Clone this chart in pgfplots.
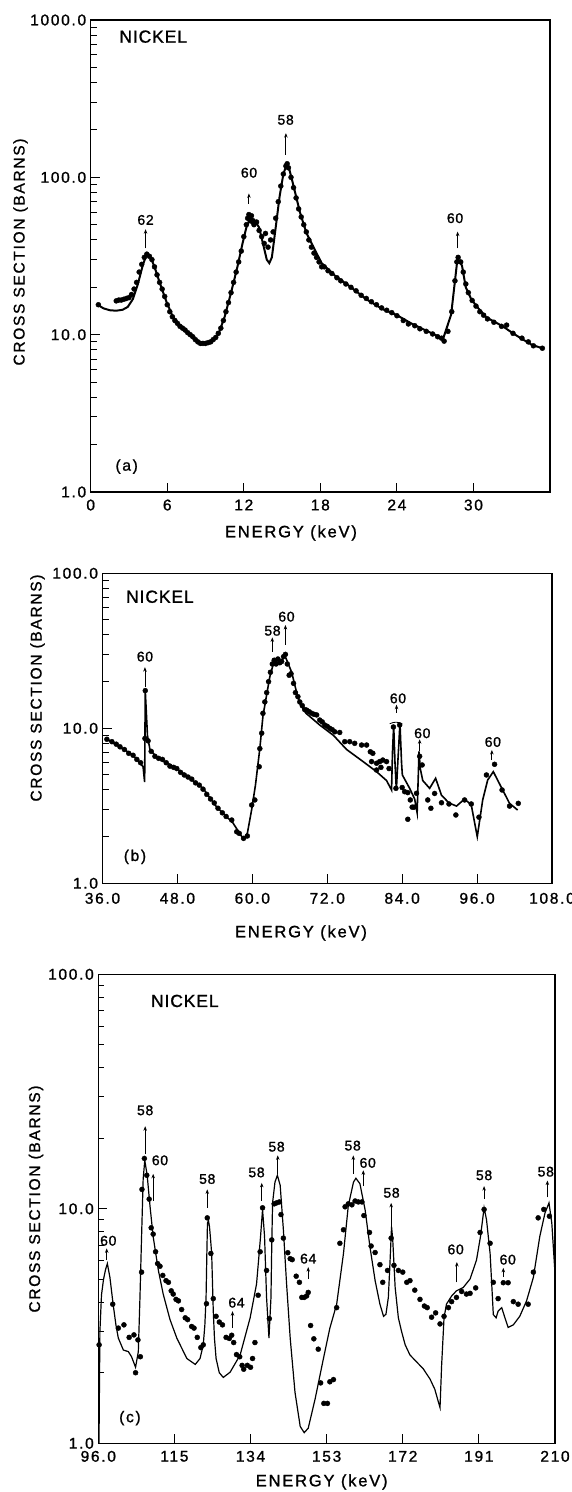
\documentclass[border=0pt]{standalone}
\usepackage{pgfplots}
\pgfplotsset{compat=1.18}
\usepackage{fontspec}
\setmainfont{Liberation Sans}
\newfontfamily\lbl[LetterSpace=11,FakeBold=1.2]{Liberation Sans}
\newfontfamily\pk[LetterSpace=5,FakeBold=1.2]{Liberation Sans}
\usetikzlibrary{arrows.meta}
\newcommand{\fT}{\lbl\fontsize{15.5}{16}\selectfont}
\newcommand{\fL}{\lbl\fontsize{16.5}{17}\selectfont}
\newcommand{\fY}{\lbl\fontsize{15.5}{16}\selectfont}
\newcommand{\fP}{\pk\fontsize{14}{14}\selectfont}
\newcommand{\fN}{\pk\fontsize{17.5}{18}\selectfont}
\pgfplotsset{
 every axis/.append style={
  scale only axis,
  axis line style={line width=1.2pt},
  tick align=inside, xtick pos=bottom, ytick pos=left,
  major tick length=9pt, minor tick length=6pt,
  tick style={line width=1pt, black},
  ticklabel style={font=\fT},
  yticklabel style={xshift=-1pt},
  /pgf/number format/assume math mode=true,
 },
}
\tikzset{pka/.style={-{Stealth[length=4.5pt,width=3.5pt]}, line width=0.9pt}}
\begin{document}
\begin{tikzpicture}[x=1pt,y=1pt]
\useasboundingbox (0,0) rectangle (572,-1492);
% ---------------- panel (a)
\begin{axis}[ymode=log, anchor=north west, at={(90.7pt,-20pt)}, width=459.3pt, height=472pt,
  xmin=0, xmax=36, ymin=1, ymax=1000,
  xticklabel style={yshift=-4pt},
  xtick={0,6,12,18,24,30}, xticklabels={0,6,12,18,24,30},
  ytick={1,10,100,1000}, yticklabels={1.0,10.0,100.0,1000.0}]
\addplot[black, mark=none, line width=2pt] coordinates {
(0.6,15.4)(1.0,14.7)(1.5,14.3)(2.0,14.2)(2.5,14.4)(2.9,15.0)(3.3,16.8)(3.7,21)(4.1,28)(4.4,32.5)(4.7,31)(5.0,27)(5.4,21.5)(5.9,16.5)(6.4,13.2)(7.0,11.3)(7.8,10.0)(8.5,9.0)(9.1,8.9)(9.6,9.2)(10.0,10.0)(10.5,13.0)(11.0,18.5)(11.5,27)(11.9,38)(12.2,48)(12.5,55)(12.8,54)(13.2,48)(13.5,38)(13.8,30)(14.0,28.5)(14.2,31)(14.5,48)(14.8,75)(15.1,105)(15.35,120)(15.6,110)(15.9,88)(16.4,60)(16.9,44.5)(17.7,33)(18.1,28.5)(19.2,23.5)(20.3,20.3)(21.6,16.8)(22.9,14.5)(24.0,13.3)(25.2,11.7)(26.3,10.6)(27.2,9.8)(27.6,9.3)(28.25,13.4)(28.75,30.5)(29.1,27.5)(29.4,20)(29.8,17)(30.2,15.3)(31.0,12.9)(32.3,11.3)(33.1,10.2)(33.8,9.4)(34.6,8.6)(35.4,8.2)
};
\addplot[only marks, mark=*, mark size=2.5pt, black] coordinates {
(0.6,15.5)(2.0,16.4)(2.2,16.6)(2.4,16.6)(2.6,16.8)(2.8,17)(3.0,17.2)(3.2,18)(3.4,19.5)(3.6,21.5)(3.8,25)(4.0,28)(4.2,31)(4.4,32.5)(4.6,31.5)(4.8,30)(5.0,27)(5.2,24)(5.4,21.5)(5.6,19.5)(5.8,17.5)(6.0,15.5)(6.2,14)(6.4,13)(6.6,12.3)(6.8,11.8)(7.0,11.3)(7.2,11)(7.4,10.7)(7.6,10.3)(7.8,10)(8.0,9.7)(8.2,9.3)(8.4,9.0)(8.6,8.8)(8.8,8.8)(9.0,8.8)(9.2,8.9)(9.4,9.0)(9.6,9.3)(9.8,9.6)(10.0,10.2)(10.2,11)(10.4,12.3)(10.6,14)(10.8,16)(11.0,18.5)(11.2,21.5)(11.4,25)(11.6,29)(11.8,34)(12.0,42)(12.2,50)(12.3,55)(12.4,58)(12.5,53)(12.6,57)(12.7,52)(12.8,50)(13.0,52)(13.2,46)(13.4,42)(13.6,38)(13.7,44)(13.9,36)(14.1,40)(14.3,45)(14.5,55)(14.7,70)(14.9,88)(15.1,105)(15.3,118)(15.4,122)(15.5,115)(15.7,100)(15.9,86)(16.1,74)(16.3,63)(16.5,56)(16.7,50)(16.9,45)(17.1,40)(17.3,36)(17.5,33)(17.7,31)(17.9,29)(18.1,27)(18.3,27)(18.6,25.5)(18.9,24.5)(19.3,23)(19.6,22)(20.0,21)(20.4,20)(20.8,19)(21.2,17.8)(21.6,17)(22.0,16.2)(22.4,15.5)(22.8,14.8)(23.2,14.3)(23.6,13.8)(24.0,13.2)(24.5,12.3)(24.9,11.7)(25.4,11.4)(25.8,10.9)(26.3,10.5)(26.8,10.1)(27.2,9.7)(27.5,9.5)(27.7,9.1)(28.0,10.5)(28.3,14)(28.55,22)(28.7,29)(28.8,31)(29.0,29)(29.2,25)(29.4,21)(29.6,18.5)(29.9,16.5)(30.2,15.2)(30.5,14)(30.8,13.3)(31.1,12.6)(31.6,12)(32.2,11.3)(32.6,11.5)(33.1,10.2)(33.8,9.5)(34.3,9.0)(34.7,8.5)(35.4,8.2)
};
\node[font=\fN] at (axis cs:4.9,784) {NICKEL};
\node[font=\fP] at (axis cs:15.28,232) {58};
\draw[pka] (axis cs:15.3,139) -- (axis cs:15.3,191);
\node[font=\fP] at (axis cs:12.41,107) {60};
\draw[pka] (axis cs:12.4,68) -- (axis cs:12.4,79);
\node[font=\fP] at (axis cs:4.3,53.6) {62};
\draw[pka] (axis cs:4.3,35.4) -- (axis cs:4.3,46.8);
\node[font=\fP] at (axis cs:28.56,55) {60};
\draw[pka] (axis cs:28.76,35.4) -- (axis cs:28.76,45.2);
\node[font=\fY] at (axis cs:2.82,1.45) {(a)};
\end{axis}
% ---------------- panel (b)
\begin{axis}[ymode=log, anchor=north west, at={(102.5pt,-573.3pt)}, width=449.5pt, height=310pt,
  xmin=36, xmax=108, ymin=1, ymax=100,
  xtick={36,48,60,72,84,96,108}, xticklabels={36.0,48.0,60.0,72.0,84.0,96.0,108.0},
  xticklabel style={yshift=-6pt},
  ytick={1,10,100}, yticklabels={1.0,10.0,100.0}]
\addplot[black, mark=none, line width=1.6pt] coordinates {
(36.7,8.5)(38.8,7.6)(40.9,6.7)(42.5,5.65)(42.75,4.5)(42.85,17.5)(43.2,9.0)(43.6,7.3)(44.7,6.5)(46.3,6.0)(47.9,5.5)(50,4.75)(52.1,4.1)(54.3,3.1)(56.9,2.45)(58.6,1.92)(59.2,2.1)(59.9,3.0)(60.5,4.3)(61.2,7.4)(61.7,12)(62.3,16.5)(62.8,21.5)(63.3,25.5)(64.0,27.5)(64.6,27)(65.2,29.5)(65.6,27)(66.3,23)(67.1,17)(67.6,14.5)(68.6,12.5)(70.8,10.5)(73,9)(75.1,7.3)(77.5,6.2)(79.9,5.25)(81.5,4.6)(82.3,4.0)(82.45,7)(82.64,10.5)(82.85,6)(83.07,4.0)(83.3,6)(83.65,10.8)(83.9,6)(84.03,5.0)(85.2,4.1)(86.0,3.5)(86.4,2.85)(86.55,4.5)(86.7,7.1)(86.9,5.5)(87.3,4.6)(88.4,4.1)(89.36,4.76)(90.3,3.7)(91.5,3.3)(92.7,3.15)(94.0,3.5)(95.07,3.2)(96.03,2.0)(96.9,3.45)(97.7,4.64)(98.6,5.25)(100.1,4.0)(101.2,3.28)(102.5,2.97)
};
\addplot[only marks, mark=*, mark size=2.5pt, black] coordinates {
(36.7,8.5)(37.5,8.2)(38.2,7.9)(38.8,7.6)(39.5,7.3)(40.2,6.9)(40.9,6.7)(41.5,6.3)(42.1,6.0)(42.85,17.5)(42.8,8.6)(43.3,8.3)(43.8,7.1)(44.4,6.6)(45.0,6.4)(45.6,6.3)(46.2,6.0)(46.8,5.7)(47.4,5.6)(47.9,5.5)(48.5,5.2)(49.1,5.0)(49.7,4.85)(50.3,4.7)(50.9,4.45)(51.5,4.3)(52.1,4.05)(52.7,3.75)(53.3,3.5)(53.9,3.3)(54.5,3.05)(55.2,2.85)(55.8,2.7)(56.7,2.56)(57.5,2.15)(57.9,2.1)(58.6,1.95)(59.2,2.02)(59.9,3.2)(60.4,3.45)(61.1,5.65)(61.2,7.4)(61.5,9.3)(61.7,12.5)(62.0,14.8)(62.3,17)(62.6,20)(62.9,23)(63.2,26)(63.5,27.5)(63.8,26)(64.1,28)(64.4,26.5)(64.7,27)(65.0,29)(65.3,30)(65.6,26)(65.9,22)(66.2,22.5)(66.6,19.5)(66.9,17)(67.3,16)(67.6,14.8)(68.0,14)(68.4,13.2)(68.7,13.1)(69.1,12.8)(69.5,12.5)(69.9,12.3)(70.3,12.2)(70.8,11.3)(71.2,11)(71.6,10.5)(72.0,10.3)(72.4,10)(72.8,9.8)(73.2,9.5)(74.0,9.4)(74.8,8.2)(75.6,8.2)(76.4,8.0)(77.5,7.8)(78.3,7.8)(78.9,7.06)(79.3,6.9)(79.1,6.1)(79.9,5.95)(80.4,6.1)(80.9,6.24)(81.5,6.1)(79.9,5.38)(80.6,5.6)(81.9,5.5)(82.6,10.2)(83.0,4.1)(83.6,10.5)(84.0,4.15)(84.4,3.9)(84.9,3.85)(85.3,3.45)(85.6,3.1)(85.9,3.1)(84.9,2.59)(86.3,3.81)(86.8,6.6)(87.2,5.8)(88.1,3.45)(88.6,3.05)(89.2,3.8)(90.3,3.31)(91.5,3.25)(92.6,2.76)(94.0,3.45)(95.07,3.25)(96.3,2.67)(97.5,5.0)(98.8,5.86)(100.0,4.0)(101.2,3.15)(102.6,3.28)
};
\node[font=\fN] at (axis cs:45.2,70.6) {NICKEL};
\node[font=\fP] at (axis cs:42.8,29) {60};
\draw[pka] (axis cs:42.8,18.5) -- (axis cs:42.8,24.8);
\node[font=\fP] at (axis cs:63.23,42.6) {58};
\draw[pka] (axis cs:63.2,31.2) -- (axis cs:63.2,38.6);
\node[font=\fP] at (axis cs:65.47,52.5) {60};
\draw[pka] (axis cs:65.3,34.5) -- (axis cs:65.3,46.4);
\node[font=\fP] at (axis cs:83.33,15.6) {60};
\draw[pka] (axis cs:83.1,12.6) -- (axis cs:83.1,14.2);
\draw[line width=0.8pt] (axis cs:82.0,10.7) to[bend left=25] (axis cs:84.03,10.7);
\node[font=\fP] at (axis cs:87.23,9.29) {60};
\draw[pka] (axis cs:86.8,7.17) -- (axis cs:86.8,8.5);
\node[font=\fP] at (axis cs:98.53,8.16) {60};
\draw[pka] (axis cs:98.37,6.24) -- (axis cs:98.37,7.25);
\node[font=\fY] at (axis cs:41.2,1.48) {(b)};
\end{axis}
% ---------------- panel (c)
\begin{axis}[ymode=log, anchor=north west, at={(98.3pt,-974.3pt)}, width=456.7pt, height=469pt,
  xmin=96, xmax=210, ymin=1, ymax=100,
  xticklabel style={yshift=-4pt},
  xtick={96,115,134,153,172,191,210}, xticklabels={96.0,115,134,153,172,191,210},
  ytick={1,10,100}, yticklabels={1.0,10.0,100.0}]
\addplot[black, mark=none, line width=1.2pt] coordinates {
(96.15,0.9)(96.4,3.0)(96.8,4.3)(97.3,5.0)(97.8,5.5)(98.26,5.84)(98.9,5.1)(99.7,3.92)(100.4,3.2)(101.0,2.81)(102.25,2.5)(103.5,2.46)(104.3,2.34)(105.3,2.11)(105.99,2.46)(106.4,4.19)(106.8,7.6)(107.2,13.4)(107.6,16.1)(108.2,13.9)(108.9,10.3)(109.7,7.6)(111.0,5.46)(112.2,4.33)(113.9,3.37)(115.6,2.81)(118.1,2.3)(120.2,2.17)(121.4,2.3)(122.2,2.63)(122.6,3.2)(122.9,4.19)(123.1,6.5)(123.25,8.7)(123.5,8.9)(123.75,8.4)(124.0,7.5)(124.3,6.45)(124.7,3.66)(125.0,2.8)(125.4,2.3)(126.2,2.0)(127.2,1.91)(128.9,2.01)(131.4,2.38)(133.9,3.43)(135.5,4.78)(136.1,6.3)(136.5,7.62)(137.0,9.94)(137.5,7.62)(138.0,4.19)(138.6,2.81)(139.1,4.19)(139.3,7)(139.5,10.6)(140.1,13.0)(140.7,13.9)(141.4,12.6)(142.2,8.14)(143.0,4.78)(143.9,2.81)(145.1,1.65)(146.4,1.18)(147.4,1.11)(148.4,1.16)(150.1,1.54)(152.2,2.3)(153.8,3.1)(155.5,3.92)(157.2,6.45)(158.4,10.3)(159.7,13.0)(160.3,13.5)(161.3,12.8)(162.6,9.9)(163.8,6.9)(165.1,4.94)(166.3,3.92)(167.2,3.48)(167.8,3.55)(168.4,4.19)(168.8,5.84)(169.2,8.4)(169.5,7.37)(170.1,4.62)(170.9,3.43)(171.7,3.0)(172.6,2.63)(173.8,2.38)(175.5,2.22)(177.1,2.08)(178.8,1.88)(180.0,1.70)(180.8,1.52)(181.3,1.42)(181.7,2.15)(182.3,3.43)(182.9,3.92)(184.2,4.25)(185.4,4.47)(187.1,4.62)(188.8,5.02)(190.4,6.04)(191.4,7.62)(192.3,10.1)(192.9,9.0)(193.8,6.45)(194.2,4.8)(194.6,3.54)(195.3,3.43)(195.8,3.66)(196.7,3.79)(197.5,3.43)(198.3,3.12)(199.6,3.2)(201.2,3.48)(202.9,4.05)(204.6,5.1)(206.2,7.62)(207.5,9.6)(208.5,10.6)(209.2,8.7)(209.9,5.65)(210,5.5)
};
\addplot[only marks, mark=*, mark size=2.5pt, black] coordinates {
(96.2,2.63)(99.6,3.92)(101.0,3.1)(102.4,3.2)(103.7,2.83)(104.9,2.9)(105.3,2.0)(105.9,2.76)(106.5,2.34)(106.8,5.37)(106.9,12.1)(107.5,16.4)(108.1,13.9)(108.7,11.0)(109.2,8.3)(109.7,7.8)(110.3,6.56)(110.8,5.84)(111.4,5.69)(112.1,5.2)(112.9,4.94)(113.5,4.86)(114.2,4.47)(114.7,4.33)(115.4,4.11)(116.0,4.05)(116.8,3.72)(117.7,3.43)(118.3,3.37)(119.3,3.15)(119.9,3.1)(120.7,2.83)(121.6,2.56)(122.2,2.63)(123.0,3.94)(123.2,9.15)(124.1,6.45)(124.7,4.14)(125.4,3.48)(126.2,3.29)(127.0,3.2)(127.9,2.83)(128.7,2.8)(129.3,2.89)(129.8,2.69)(130.5,2.39)(131.3,2.34)(131.9,2.15)(132.3,2.07)(133.2,2.15)(134.0,2.11)(134.5,2.3)(135.1,2.69)(135.9,4.28)(136.4,6.56)(137.0,10.1)(138.0,5.46)(138.7,3.4)(139.3,7.37)(139.9,10.5)(140.5,10.6)(141.2,10.7)(141.6,9.45)(142.2,7.5)(143.3,6.5)(143.9,6.13)(144.4,6.07)(145.4,5.16)(146.2,4.86)(146.8,4.19)(147.4,4.19)(148.0,4.25)(148.4,4.4)(149.0,3.18)(149.8,2.79)(150.9,2.52)(151.5,1.81)(152.3,1.48)(153.2,1.48)(153.8,1.83)(154.7,1.87)(155.5,3.79)(156.3,7.13)(157.2,8.14)(157.6,10.2)(158.4,10.5)(159.3,10.4)(160.1,10.8)(160.9,10.7)(161.8,10.7)(162.3,9.36)(163.7,7.93)(164.1,6.94)(165.1,6.51)(166.3,5.78)(167.0,4.86)(168.2,5.46)(169.1,7.5)(169.8,5.74)(170.9,5.46)(172.0,5.37)(173.0,4.86)(173.8,4.94)(175.0,4.5)(176.3,4.11)(177.4,3.85)(178.1,3.79)(179.2,3.45)(180.2,3.6)(181.3,3.23)(182.3,3.48)(183.4,3.79)(184.2,4.02)(185.4,4.19)(186.7,4.44)(187.9,4.33)(188.8,4.36)(190.2,4.6)(191.3,7.93)(192.3,9.94)(193.8,7.13)(194.6,4.86)(195.8,4.14)(197.1,4.84)(198.3,4.84)(199.6,4.02)(200.8,3.92)(203.3,3.92)(204.6,5.37)(205.8,9.15)(207.2,9.94)(208.6,9.3)
};
\node[font=\fN] at (axis cs:117.6,77) {NICKEL};
\node[font=\fP] at (axis cs:107.7,26.3) {58};
\draw[pka] (axis cs:107.7,17.1) -- (axis cs:107.7,22.5);
\node[font=\fP] at (axis cs:111.4,16.1) {60};
\draw[pka] (axis cs:109.7,10.8) -- (axis cs:109.7,14.1);
\node[font=\fP] at (axis cs:98.5,7.31) {60};
\draw[pka] (axis cs:98.1,6.04) -- (axis cs:98.1,6.78);
\node[font=\fP] at (axis cs:123.2,13.4) {58};
\draw[pka] (axis cs:123.2,10.1) -- (axis cs:123.2,12.1);
\node[font=\fP] at (axis cs:130.5,3.98) {64};
\draw[pka] (axis cs:129.5,3.1) -- (axis cs:129.5,3.66);
\node[font=\fP] at (axis cs:135.5,14.3) {58};
\draw[pka] (axis cs:136.8,10.8) -- (axis cs:136.8,12.9);
\node[font=\fP] at (axis cs:140.5,18.4) {58};
\draw[pka] (axis cs:140.8,14.1) -- (axis cs:140.8,16.9);
\node[font=\fP] at (axis cs:148.4,6.13) {64};
\draw[pka] (axis cs:148.4,5.02) -- (axis cs:148.4,5.64);
\node[font=\fP] at (axis cs:159.5,18.6) {58};
\draw[pka] (axis cs:159.65,14.1) -- (axis cs:159.65,16.9);
\node[font=\fP] at (axis cs:163.25,15.7) {60};
\draw[pka] (axis cs:162.15,12.5) -- (axis cs:162.15,14.6);
\node[font=\fP] at (axis cs:169.2,11.7) {58};
\draw[pka] (axis cs:169.1,8.14) -- (axis cs:169.1,10.6);
\node[font=\fP] at (axis cs:185.2,6.71) {60};
\draw[pka] (axis cs:185.5,4.86) -- (axis cs:185.5,5.93);
\node[font=\fP] at (axis cs:192.3,13.9) {58};
\draw[pka] (axis cs:192.3,11.0) -- (axis cs:192.3,12.5);
\node[font=\fP] at (axis cs:198.2,6.07) {60};
\draw[pka] (axis cs:197.1,5.11) -- (axis cs:197.1,5.6);
\node[font=\fP] at (axis cs:207.7,14.4) {58};
\draw[pka] (axis cs:208.1,11.2) -- (axis cs:208.1,13.2);
\node[font=\fY] at (axis cs:103.9,1.28) {(c)};
\end{axis}
% axis titles
\node[rotate=90, font=\fY] at (20.5,-252) {CROSS SECTION (BARNS)};
\node[font=\fL] at (291,-533) {ENERGY (keV)};
\node[rotate=90, font=\fY] at (37.5,-688) {CROSS SECTION (BARNS)};
\node[font=\fL] at (301,-933) {ENERGY (keV)};
\node[rotate=90, font=\fY] at (36,-1199) {CROSS SECTION (BARNS)};
\node[font=\fL] at (321.7,-1482) {ENERGY (keV)};
\end{tikzpicture}
\end{document}
